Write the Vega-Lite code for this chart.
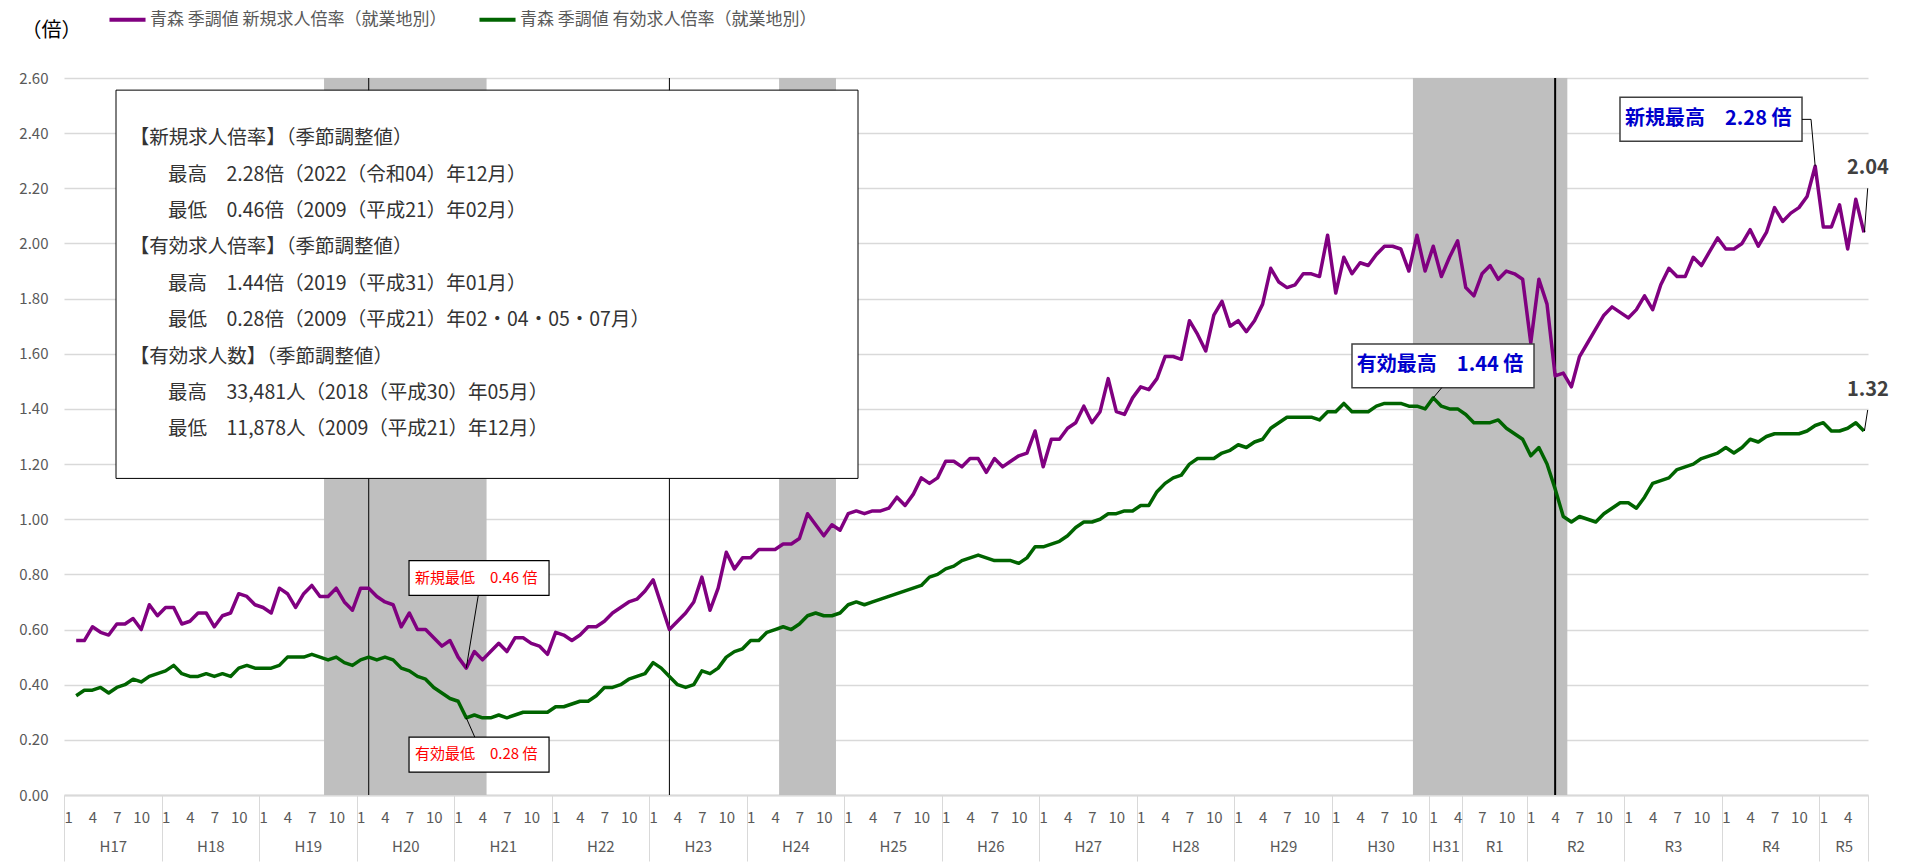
{
  "$schema": "https://vega.github.io/schema/vega-lite/v6.json",
  "width": 1804,
  "height": 717,
  "autosize": {"type": "none"},
  "padding": {"left": 64, "top": 78, "right": 46, "bottom": 72},
  "background": "white",
  "config": {"font": "Noto Sans CJK JP", "view": {"stroke": null}},
  "datasets": {
    "series": [
      {"t":1,"new":0.56,"eff":0.36},{"t":2,"new":0.56,"eff":0.38},{"t":3,"new":0.61,"eff":0.38},{"t":4,"new":0.59,"eff":0.39},{"t":5,"new":0.58,"eff":0.37},{"t":6,"new":0.62,"eff":0.39},{"t":7,"new":0.62,"eff":0.40},{"t":8,"new":0.64,"eff":0.42},{"t":9,"new":0.60,"eff":0.41},{"t":10,"new":0.69,"eff":0.43},{"t":11,"new":0.65,"eff":0.44},
      {"t":12,"new":0.68,"eff":0.45},{"t":13,"new":0.68,"eff":0.47},{"t":14,"new":0.62,"eff":0.44},{"t":15,"new":0.63,"eff":0.43},{"t":16,"new":0.66,"eff":0.43},{"t":17,"new":0.66,"eff":0.44},{"t":18,"new":0.61,"eff":0.43},{"t":19,"new":0.65,"eff":0.44},{"t":20,"new":0.66,"eff":0.43},{"t":21,"new":0.73,"eff":0.46},{"t":22,"new":0.72,"eff":0.47},{"t":23,"new":0.69,"eff":0.46},
      {"t":24,"new":0.68,"eff":0.46},{"t":25,"new":0.66,"eff":0.46},{"t":26,"new":0.75,"eff":0.47},{"t":27,"new":0.73,"eff":0.50},{"t":28,"new":0.68,"eff":0.50},{"t":29,"new":0.73,"eff":0.50},{"t":30,"new":0.76,"eff":0.51},{"t":31,"new":0.72,"eff":0.50},{"t":32,"new":0.72,"eff":0.49},{"t":33,"new":0.75,"eff":0.50},{"t":34,"new":0.70,"eff":0.48},{"t":35,"new":0.67,"eff":0.47},
      {"t":36,"new":0.75,"eff":0.49},{"t":37,"new":0.75,"eff":0.50},{"t":38,"new":0.72,"eff":0.49},{"t":39,"new":0.70,"eff":0.50},{"t":40,"new":0.69,"eff":0.49},{"t":41,"new":0.61,"eff":0.46},{"t":42,"new":0.66,"eff":0.45},{"t":43,"new":0.60,"eff":0.43},{"t":44,"new":0.60,"eff":0.42},{"t":45,"new":0.57,"eff":0.39},{"t":46,"new":0.54,"eff":0.37},{"t":47,"new":0.56,"eff":0.35},
      {"t":48,"new":0.50,"eff":0.34},{"t":49,"new":0.46,"eff":0.28},{"t":50,"new":0.52,"eff":0.29},{"t":51,"new":0.49,"eff":0.28},{"t":52,"new":0.52,"eff":0.28},{"t":53,"new":0.55,"eff":0.29},{"t":54,"new":0.52,"eff":0.28},{"t":55,"new":0.57,"eff":0.29},{"t":56,"new":0.57,"eff":0.30},{"t":57,"new":0.55,"eff":0.30},{"t":58,"new":0.54,"eff":0.30},{"t":59,"new":0.51,"eff":0.30},
      {"t":60,"new":0.59,"eff":0.32},{"t":61,"new":0.58,"eff":0.32},{"t":62,"new":0.56,"eff":0.33},{"t":63,"new":0.58,"eff":0.34},{"t":64,"new":0.61,"eff":0.34},{"t":65,"new":0.61,"eff":0.36},{"t":66,"new":0.63,"eff":0.39},{"t":67,"new":0.66,"eff":0.39},{"t":68,"new":0.68,"eff":0.40},{"t":69,"new":0.70,"eff":0.42},{"t":70,"new":0.71,"eff":0.43},{"t":71,"new":0.74,"eff":0.44},
      {"t":72,"new":0.78,"eff":0.48},{"t":73,"new":0.69,"eff":0.46},{"t":74,"new":0.60,"eff":0.43},{"t":75,"new":0.63,"eff":0.40},{"t":76,"new":0.66,"eff":0.39},{"t":77,"new":0.70,"eff":0.40},{"t":78,"new":0.79,"eff":0.45},{"t":79,"new":0.67,"eff":0.44},{"t":80,"new":0.75,"eff":0.46},{"t":81,"new":0.88,"eff":0.50},{"t":82,"new":0.82,"eff":0.52},{"t":83,"new":0.86,"eff":0.53},
      {"t":84,"new":0.86,"eff":0.56},{"t":85,"new":0.89,"eff":0.56},{"t":86,"new":0.89,"eff":0.59},{"t":87,"new":0.89,"eff":0.60},{"t":88,"new":0.91,"eff":0.61},{"t":89,"new":0.91,"eff":0.60},{"t":90,"new":0.93,"eff":0.62},{"t":91,"new":1.02,"eff":0.65},{"t":92,"new":0.98,"eff":0.66},{"t":93,"new":0.94,"eff":0.65},{"t":94,"new":0.98,"eff":0.65},{"t":95,"new":0.96,"eff":0.66},
      {"t":96,"new":1.02,"eff":0.69},{"t":97,"new":1.03,"eff":0.70},{"t":98,"new":1.02,"eff":0.69},{"t":99,"new":1.03,"eff":0.70},{"t":100,"new":1.03,"eff":0.71},{"t":101,"new":1.04,"eff":0.72},{"t":102,"new":1.08,"eff":0.73},{"t":103,"new":1.05,"eff":0.74},{"t":104,"new":1.09,"eff":0.75},{"t":105,"new":1.15,"eff":0.76},{"t":106,"new":1.13,"eff":0.79},{"t":107,"new":1.15,"eff":0.80},
      {"t":108,"new":1.21,"eff":0.82},{"t":109,"new":1.21,"eff":0.83},{"t":110,"new":1.19,"eff":0.85},{"t":111,"new":1.22,"eff":0.86},{"t":112,"new":1.22,"eff":0.87},{"t":113,"new":1.17,"eff":0.86},{"t":114,"new":1.22,"eff":0.85},{"t":115,"new":1.19,"eff":0.85},{"t":116,"new":1.21,"eff":0.85},{"t":117,"new":1.23,"eff":0.84},{"t":118,"new":1.24,"eff":0.86},{"t":119,"new":1.32,"eff":0.90},
      {"t":120,"new":1.19,"eff":0.90},{"t":121,"new":1.29,"eff":0.91},{"t":122,"new":1.29,"eff":0.92},{"t":123,"new":1.33,"eff":0.94},{"t":124,"new":1.35,"eff":0.97},{"t":125,"new":1.41,"eff":0.99},{"t":126,"new":1.35,"eff":0.99},{"t":127,"new":1.39,"eff":1.00},{"t":128,"new":1.51,"eff":1.02},{"t":129,"new":1.39,"eff":1.02},{"t":130,"new":1.38,"eff":1.03},{"t":131,"new":1.44,"eff":1.03},
      {"t":132,"new":1.48,"eff":1.05},{"t":133,"new":1.47,"eff":1.05},{"t":134,"new":1.51,"eff":1.10},{"t":135,"new":1.59,"eff":1.13},{"t":136,"new":1.59,"eff":1.15},{"t":137,"new":1.58,"eff":1.16},{"t":138,"new":1.72,"eff":1.20},{"t":139,"new":1.67,"eff":1.22},{"t":140,"new":1.61,"eff":1.22},{"t":141,"new":1.74,"eff":1.22},{"t":142,"new":1.79,"eff":1.24},{"t":143,"new":1.70,"eff":1.25},
      {"t":144,"new":1.72,"eff":1.27},{"t":145,"new":1.68,"eff":1.26},{"t":146,"new":1.72,"eff":1.28},{"t":147,"new":1.78,"eff":1.29},{"t":148,"new":1.91,"eff":1.33},{"t":149,"new":1.86,"eff":1.35},{"t":150,"new":1.84,"eff":1.37},{"t":151,"new":1.85,"eff":1.37},{"t":152,"new":1.89,"eff":1.37},{"t":153,"new":1.89,"eff":1.37},{"t":154,"new":1.88,"eff":1.36},{"t":155,"new":2.03,"eff":1.39},
      {"t":156,"new":1.82,"eff":1.39},{"t":157,"new":1.95,"eff":1.42},{"t":158,"new":1.89,"eff":1.39},{"t":159,"new":1.93,"eff":1.39},{"t":160,"new":1.92,"eff":1.39},{"t":161,"new":1.96,"eff":1.41},{"t":162,"new":1.99,"eff":1.42},{"t":163,"new":1.99,"eff":1.42},{"t":164,"new":1.98,"eff":1.42},{"t":165,"new":1.90,"eff":1.41},{"t":166,"new":2.03,"eff":1.41},{"t":167,"new":1.90,"eff":1.40},
      {"t":168,"new":1.99,"eff":1.44},{"t":169,"new":1.88,"eff":1.41},{"t":170,"new":1.95,"eff":1.40},{"t":171,"new":2.01,"eff":1.40},{"t":172,"new":1.84,"eff":1.38},{"t":173,"new":1.81,"eff":1.35},{"t":174,"new":1.89,"eff":1.35},{"t":175,"new":1.92,"eff":1.35},{"t":176,"new":1.87,"eff":1.36},{"t":177,"new":1.90,"eff":1.33},{"t":178,"new":1.89,"eff":1.31},{"t":179,"new":1.87,"eff":1.29},
      {"t":180,"new":1.64,"eff":1.23},{"t":181,"new":1.87,"eff":1.26},{"t":182,"new":1.78,"eff":1.20},{"t":183,"new":1.52,"eff":1.11},{"t":184,"new":1.53,"eff":1.01},{"t":185,"new":1.48,"eff":0.99},{"t":186,"new":1.59,"eff":1.01},{"t":187,"new":1.64,"eff":1.00},{"t":188,"new":1.69,"eff":0.99},{"t":189,"new":1.74,"eff":1.02},{"t":190,"new":1.77,"eff":1.04},{"t":191,"new":1.75,"eff":1.06},
      {"t":192,"new":1.73,"eff":1.06},{"t":193,"new":1.76,"eff":1.04},{"t":194,"new":1.81,"eff":1.08},{"t":195,"new":1.76,"eff":1.13},{"t":196,"new":1.85,"eff":1.14},{"t":197,"new":1.91,"eff":1.15},{"t":198,"new":1.88,"eff":1.18},{"t":199,"new":1.88,"eff":1.19},{"t":200,"new":1.95,"eff":1.20},{"t":201,"new":1.92,"eff":1.22},{"t":202,"new":1.97,"eff":1.23},{"t":203,"new":2.02,"eff":1.24},
      {"t":204,"new":1.98,"eff":1.26},{"t":205,"new":1.98,"eff":1.24},{"t":206,"new":2.00,"eff":1.26},{"t":207,"new":2.05,"eff":1.29},{"t":208,"new":1.99,"eff":1.28},{"t":209,"new":2.04,"eff":1.30},{"t":210,"new":2.13,"eff":1.31},{"t":211,"new":2.08,"eff":1.31},{"t":212,"new":2.11,"eff":1.31},{"t":213,"new":2.13,"eff":1.31},{"t":214,"new":2.17,"eff":1.32},{"t":215,"new":2.28,"eff":1.34},
      {"t":216,"new":2.06,"eff":1.35},{"t":217,"new":2.06,"eff":1.32},{"t":218,"new":2.14,"eff":1.32},{"t":219,"new":1.98,"eff":1.33},{"t":220,"new":2.16,"eff":1.35},{"t":221,"new":2.04,"eff":1.32}
    ],
    "bands": [{"start": 31.5, "end": 51.5}, {"start": 87.5, "end": 94.5}, {"start": 165.5, "end": 184.5}],
    "events": [{"t": 37}, {"t": 74}, {"t": 183}],
    "summary": [
      {"line": 1, "kind": "head", "text": "【新規求人倍率】（季節調整値）"},
      {"line": 2, "kind": "item", "text": "最高　2.28倍（2022（令和04）年12月）"},
      {"line": 3, "kind": "item", "text": "最低　0.46倍（2009（平成21）年02月）"},
      {"line": 4, "kind": "head", "text": "【有効求人倍率】（季節調整値）"},
      {"line": 5, "kind": "item", "text": "最高　1.44倍（2019（平成31）年01月）"},
      {"line": 6, "kind": "item", "text": "最低　0.28倍（2009（平成21）年02・04・05・07月）"},
      {"line": 7, "kind": "head", "text": "【有効求人数】（季節調整値）"},
      {"line": 8, "kind": "item", "text": "最高　33,481人（2018（平成30）年05月）"},
      {"line": 9, "kind": "item", "text": "最低　11,878人（2009（平成21）年12月）"}
    ],
    "notes": [
      {"id": "newmin", "label": "新規最低　0.46 倍"},
      {"id": "effmin", "label": "有効最低　0.28 倍"},
      {"id": "effmax", "label": "有効最高　1.44 倍"},
      {"id": "newmax", "label": "新規最高　2.28 倍"}
    ]
  },
  "resolve": {"axis": {"x": "independent", "y": "independent"}, "scale": {"y": "independent"}},
  "layer": [
    {
      "data": {"name": "bands"},
      "mark": {"type": "rect", "color": "#bfbfbf"},
      "encoding": {
        "x": {"field": "start", "type": "quantitative", "scale": {"domain": [-0.5, 221.5], "nice": false, "zero": false},
          "axis": {"orient": "bottom", "values": [-0.5,11.5,23.5,35.5,47.5,59.5,71.5,83.5,95.5,107.5,119.5,131.5,143.5,155.5,167.5,171.5,179.5,191.5,203.5,215.5,221.5],
            "labels": false, "ticks": true, "tickSize": 66, "tickColor": "#d9d9d9", "tickWidth": 1, "domain": false, "grid": false, "title": null}},
        "x2": {"field": "end"},
        "y": {"datum": 2.6, "type": "quantitative", "scale": {"domain": [0, 2.6], "nice": false},
          "axis": {"orient": "left", "values": [0,0.2,0.4,0.6,0.8,1,1.2,1.4,1.6,1.8,2,2.2,2.4,2.6], "format": ".2f", "grid": true, "gridColor": "#d9d9d9", "gridWidth": 1.3,
            "domain": false, "ticks": false, "labelPadding": 16, "labelFontSize": 15, "labelColor": "#595959",
            "title": "（倍）", "titleAngle": 0, "titleX": -43, "titleY": -48, "titleAlign": "left", "titleBaseline": "middle", "titleFontSize": 20, "titleFontWeight": "normal", "titleColor": "#000000"}},
        "y2": {"datum": 0}
      }
    },
    {
      "data": {"name": "events"},
      "mark": {"type": "rule", "color": "#000000"},
      "encoding": {
        "x": {"field": "t", "type": "quantitative", "scale": {"domain": [-0.5, 221.5], "nice": false, "zero": false},
          "axis": {"orient": "bottom", "values": [5.5,17.5,29.5,41.5,53.5,65.5,77.5,89.5,101.5,113.5,125.5,137.5,149.5,161.5,169.5,175.5,185.5,197.5,209.5,218.5],
            "labelExpr": "['H17','H18','H19','H20','H21','H22','H23','H24','H25','H26','H27','H28','H29','H30','H31','R1','R2','R3','R4','R5'][indexof([5.5,17.5,29.5,41.5,53.5,65.5,77.5,89.5,101.5,113.5,125.5,137.5,149.5,161.5,169.5,175.5,185.5,197.5,209.5,218.5], datum.value)]",
            "ticks": false, "tickSize": 0, "domain": false, "grid": false, "labelPadding": 51, "labelBaseline": "middle", "labelFontSize": 15, "labelColor": "#595959", "labelFlush": false, "labelOverlap": false, "title": null}},
        "y": {"datum": 2.6, "type": "quantitative", "scale": {"domain": [0, 2.6], "nice": false}, "axis": null},
        "y2": {"datum": 0},
        "strokeWidth": {"condition": {"test": "datum.t == 183", "value": 2}, "value": 1}
      }
    },
    {
      "data": {"values": [{}]},
      "mark": {"type": "rect", "fill": "white", "stroke": "#000000", "strokeWidth": 1},
      "encoding": {
        "x": {"datum": 5.9, "type": "quantitative", "scale": {"domain": [-0.5, 221.5], "nice": false, "zero": false}, "axis": null},
        "x2": {"datum": 97.21},
        "y": {"datum": 2.556, "type": "quantitative", "scale": {"domain": [0, 2.6], "nice": false}, "axis": null},
        "y2": {"datum": 1.148}
      }
    },
    {
      "data": {"name": "summary"},
      "transform": [{"filter": "datum.kind == 'head'"}],
      "mark": {"type": "text", "align": "left", "baseline": "middle", "fontSize": 19.5, "color": "#333333"},
      "encoding": {
        "x": {"datum": 7.6, "type": "quantitative", "scale": {"domain": [-0.5, 221.5], "nice": false, "zero": false}, "axis": null},
        "y": {"field": "line", "type": "quantitative", "scale": {"domain": [-0.6566, 19.0414], "nice": false, "zero": false, "reverse": true}, "axis": null},
        "text": {"field": "text"}
      }
    },
    {
      "data": {"name": "summary"},
      "transform": [{"filter": "datum.kind == 'item'"}],
      "mark": {"type": "text", "align": "left", "baseline": "middle", "fontSize": 19.5, "color": "#333333"},
      "encoding": {
        "x": {"datum": 12.3, "type": "quantitative", "scale": {"domain": [-0.5, 221.5], "nice": false, "zero": false}, "axis": null},
        "y": {"field": "line", "type": "quantitative", "scale": {"domain": [-0.6566, 19.0414], "nice": false, "zero": false, "reverse": true}, "axis": null},
        "text": {"field": "text"}
      }
    },
    {
      "data": {"name": "series"},
      "transform": [{"fold": ["new", "eff"], "as": ["s", "v"]}],
      "mark": {"type": "line", "strokeWidth": 3.5, "strokeJoin": "round"},
      "encoding": {
        "x": {"field": "t", "type": "quantitative", "scale": {"domain": [-0.5, 221.5], "nice": false, "zero": false},
          "axis": {"orient": "bottom", "values": [0,3,6,9,12,15,18,21,24,27,30,33,36,39,42,45,48,51,54,57,60,63,66,69,72,75,78,81,84,87,90,93,96,99,102,105,108,111,114,117,120,123,126,129,132,135,138,141,144,147,150,153,156,159,162,165,168,171,174,177,180,183,186,189,192,195,198,201,204,207,210,213,216,219],
            "labelExpr": "datum.value % 12 + 1", "ticks": false, "tickSize": 0, "domain": true, "domainColor": "#d9d9d9", "domainWidth": 2, "grid": false,
            "labelPadding": 22, "labelBaseline": "middle", "labelFontSize": 15, "labelColor": "#595959", "labelFlush": false, "labelOverlap": false, "title": null}},
        "y": {"field": "v", "type": "quantitative", "scale": {"domain": [0, 2.6], "nice": false}, "axis": null},
        "color": {"field": "s", "type": "nominal", "scale": {"domain": ["new", "eff"], "range": ["#800080", "#006400"]},
          "legend": {"orient": "none", "legendX": 43, "legendY": -79, "direction": "horizontal", "title": null, "symbolType": "stroke", "symbolStrokeWidth": 4, "symbolSize": 1300,
            "labelFontSize": 17, "labelColor": "#595959", "labelOffset": 2, "labelLimit": 0, "columnPadding": 24, "padding": 0,
            "labelExpr": "datum.value == 'new' ? '青森 季調値 新規求人倍率（就業地別）' : '青森 季調値 有効求人倍率（就業地別）'"}}
      }
    },
    {
      "data": {"values": [{}]},
      "mark": {"type": "rect", "fill": "white", "stroke": "#000000", "strokeWidth": 1.2},
      "encoding": {
        "x": {"datum": 41.96, "type": "quantitative", "scale": {"domain": [-0.5, 221.5], "nice": false, "zero": false}, "axis": null},
        "x2": {"datum": 59.19},
        "y": {"datum": 0.85, "type": "quantitative", "scale": {"domain": [0, 2.6], "nice": false}, "axis": null},
        "y2": {"datum": 0.724}
      }
    },
    {
      "data": {"values": [{}]},
      "mark": {"type": "rect", "fill": "white", "stroke": "#000000", "strokeWidth": 1.2},
      "encoding": {
        "x": {"datum": 41.96, "type": "quantitative", "scale": {"domain": [-0.5, 221.5], "nice": false, "zero": false}, "axis": null},
        "x2": {"datum": 59.19},
        "y": {"datum": 0.21, "type": "quantitative", "scale": {"domain": [0, 2.6], "nice": false}, "axis": null},
        "y2": {"datum": 0.083}
      }
    },
    {
      "data": {"values": [{}]},
      "mark": {"type": "rect", "fill": "white", "stroke": "#404040", "strokeWidth": 1.5},
      "encoding": {
        "x": {"datum": 158.0, "type": "quantitative", "scale": {"domain": [-0.5, 221.5], "nice": false, "zero": false}, "axis": null},
        "x2": {"datum": 180.4},
        "y": {"datum": 1.635, "type": "quantitative", "scale": {"domain": [0, 2.6], "nice": false}, "axis": null},
        "y2": {"datum": 1.477}
      }
    },
    {
      "data": {"values": [{}]},
      "mark": {"type": "rect", "fill": "white", "stroke": "#404040", "strokeWidth": 1.5},
      "encoding": {
        "x": {"datum": 190.98, "type": "quantitative", "scale": {"domain": [-0.5, 221.5], "nice": false, "zero": false}, "axis": null},
        "x2": {"datum": 213.38},
        "y": {"datum": 2.53, "type": "quantitative", "scale": {"domain": [0, 2.6], "nice": false}, "axis": null},
        "y2": {"datum": 2.371}
      }
    },
    {
      "data": {"name": "notes"},
      "transform": [{"filter": "datum.id == 'newmin'"}],
      "mark": {"type": "text", "align": "left", "baseline": "middle", "fontSize": 15, "color": "#ff0000"},
      "encoding": {
        "x": {"datum": 42.69, "type": "quantitative", "scale": {"domain": [-0.5, 221.5], "nice": false, "zero": false}, "axis": null},
        "y": {"datum": 0.786, "type": "quantitative", "scale": {"domain": [0, 2.6], "nice": false}, "axis": null},
        "text": {"field": "label"}
      }
    },
    {
      "data": {"name": "notes"},
      "transform": [{"filter": "datum.id == 'effmin'"}],
      "mark": {"type": "text", "align": "left", "baseline": "middle", "fontSize": 15, "color": "#ff0000"},
      "encoding": {
        "x": {"datum": 42.69, "type": "quantitative", "scale": {"domain": [-0.5, 221.5], "nice": false, "zero": false}, "axis": null},
        "y": {"datum": 0.147, "type": "quantitative", "scale": {"domain": [0, 2.6], "nice": false}, "axis": null},
        "text": {"field": "label"}
      }
    },
    {
      "data": {"name": "notes"},
      "transform": [{"filter": "datum.id == 'effmax'"}],
      "mark": {"type": "text", "align": "left", "baseline": "middle", "fontSize": 20, "fontWeight": "bold", "color": "#0000cc"},
      "encoding": {
        "x": {"datum": 158.6, "type": "quantitative", "scale": {"domain": [-0.5, 221.5], "nice": false, "zero": false}, "axis": null},
        "y": {"datum": 1.559, "type": "quantitative", "scale": {"domain": [0, 2.6], "nice": false}, "axis": null},
        "text": {"field": "label"}
      }
    },
    {
      "data": {"name": "notes"},
      "transform": [{"filter": "datum.id == 'newmax'"}],
      "mark": {"type": "text", "align": "left", "baseline": "middle", "fontSize": 20, "fontWeight": "bold", "color": "#0000cc"},
      "encoding": {
        "x": {"datum": 191.6, "type": "quantitative", "scale": {"domain": [-0.5, 221.5], "nice": false, "zero": false}, "axis": null},
        "y": {"datum": 2.45, "type": "quantitative", "scale": {"domain": [0, 2.6], "nice": false}, "axis": null},
        "text": {"field": "label"}
      }
    },
    {
      "data": {"name": "series"},
      "transform": [{"filter": "datum.t == 221"}],
      "mark": {"type": "text", "align": "center", "baseline": "middle", "fontSize": 20, "fontWeight": "bold", "color": "#404040"},
      "encoding": {
        "x": {"datum": 221.49, "type": "quantitative", "scale": {"domain": [-0.5, 221.5], "nice": false, "zero": false}, "axis": null},
        "y": {"datum": 2.272, "type": "quantitative", "scale": {"domain": [0, 2.6], "nice": false}, "axis": null},
        "text": {"field": "new", "type": "quantitative", "format": ".2f"}
      }
    },
    {
      "data": {"name": "series"},
      "transform": [{"filter": "datum.t == 221"}],
      "mark": {"type": "text", "align": "center", "baseline": "middle", "fontSize": 20, "fontWeight": "bold", "color": "#404040"},
      "encoding": {
        "x": {"datum": 221.49, "type": "quantitative", "scale": {"domain": [-0.5, 221.5], "nice": false, "zero": false}, "axis": null},
        "y": {"datum": 1.469, "type": "quantitative", "scale": {"domain": [0, 2.6], "nice": false}, "axis": null},
        "text": {"field": "eff", "type": "quantitative", "format": ".2f"}
      }
    },
    {
      "data": {"values": [{}]},
      "mark": {"type": "rule", "color": "#000000", "strokeWidth": 1},
      "encoding": {
        "x": {"datum": 50.48, "type": "quantitative", "scale": {"domain": [-0.5, 221.5], "nice": false, "zero": false}, "axis": null},
        "y": {"datum": 0.724, "type": "quantitative", "scale": {"domain": [0, 2.6], "nice": false}, "axis": null},
        "x2": {"datum": 49.0},
        "y2": {"datum": 0.46}
      }
    },
    {
      "data": {"values": [{}]},
      "mark": {"type": "rule", "color": "#000000", "strokeWidth": 1},
      "encoding": {
        "x": {"datum": 49.0, "type": "quantitative", "scale": {"domain": [-0.5, 221.5], "nice": false, "zero": false}, "axis": null},
        "y": {"datum": 0.28, "type": "quantitative", "scale": {"domain": [0, 2.6], "nice": false}, "axis": null},
        "x2": {"datum": 50.05},
        "y2": {"datum": 0.21}
      }
    },
    {
      "data": {"values": [{}]},
      "mark": {"type": "rule", "color": "#000000", "strokeWidth": 1},
      "encoding": {
        "x": {"datum": 169.04, "type": "quantitative", "scale": {"domain": [-0.5, 221.5], "nice": false, "zero": false}, "axis": null},
        "y": {"datum": 1.477, "type": "quantitative", "scale": {"domain": [0, 2.6], "nice": false}, "axis": null},
        "x2": {"datum": 168.0},
        "y2": {"datum": 1.44}
      }
    },
    {
      "data": {"values": [{}]},
      "mark": {"type": "rule", "color": "#000000", "strokeWidth": 1},
      "encoding": {
        "x": {"datum": 213.38, "type": "quantitative", "scale": {"domain": [-0.5, 221.5], "nice": false, "zero": false}, "axis": null},
        "y": {"datum": 2.45, "type": "quantitative", "scale": {"domain": [0, 2.6], "nice": false}, "axis": null},
        "x2": {"datum": 214.49},
        "y2": {"datum": 2.45}
      }
    },
    {
      "data": {"values": [{}]},
      "mark": {"type": "rule", "color": "#000000", "strokeWidth": 1},
      "encoding": {
        "x": {"datum": 214.49, "type": "quantitative", "scale": {"domain": [-0.5, 221.5], "nice": false, "zero": false}, "axis": null},
        "y": {"datum": 2.45, "type": "quantitative", "scale": {"domain": [0, 2.6], "nice": false}, "axis": null},
        "x2": {"datum": 215.0},
        "y2": {"datum": 2.28}
      }
    },
    {
      "data": {"values": [{}]},
      "mark": {"type": "rule", "color": "#000000", "strokeWidth": 1},
      "encoding": {
        "x": {"datum": 221.46, "type": "quantitative", "scale": {"domain": [-0.5, 221.5], "nice": false, "zero": false}, "axis": null},
        "y": {"datum": 2.2, "type": "quantitative", "scale": {"domain": [0, 2.6], "nice": false}, "axis": null},
        "x2": {"datum": 221.06},
        "y2": {"datum": 2.04}
      }
    },
    {
      "data": {"values": [{}]},
      "mark": {"type": "rule", "color": "#000000", "strokeWidth": 1},
      "encoding": {
        "x": {"datum": 221.46, "type": "quantitative", "scale": {"domain": [-0.5, 221.5], "nice": false, "zero": false}, "axis": null},
        "y": {"datum": 1.396, "type": "quantitative", "scale": {"domain": [0, 2.6], "nice": false}, "axis": null},
        "x2": {"datum": 221.06},
        "y2": {"datum": 1.32}
      }
    }
  ]
}
